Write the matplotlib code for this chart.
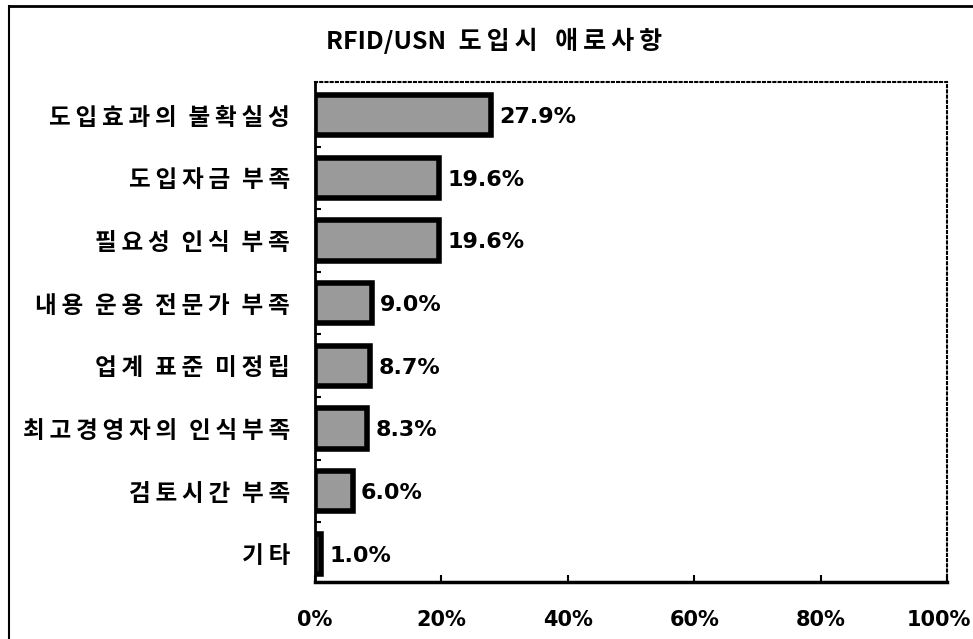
import numpy as np
import matplotlib.pyplot as plt
from matplotlib.lines import Line2D
from matplotlib.transforms import ScaledTranslation

plt.rcParams['font.family'] = ['Noto Sans CJK KR', 'DejaVu Sans']

categories = ["도입효과의 불확실성", "도입자금 부족", "필요성 인식 부족",
              "내용 운용 전문가 부족", "업계 표준 미정립", "최고경영자의 인식부족",
              "검토시간 부족", "기타"]
values = [27.9, 19.6, 19.6, 9.0, 8.7, 8.3, 6.0, 1.0]
xticks = [0, 20, 40, 60, 80, 100]
title_latin = "RFID/USN"
title_kor = "도입시 애로사항"

SEP = '\u2009'          # small gap between hangul glyphs
WORD = '\u2002'


def spaced(s, sep=SEP, word=WORD):
    # the scanned font is set with a little extra letter spacing
    return word.join(sep.join(w) for w in s.split(' '))


fig = plt.figure(figsize=(9.73, 6.39), dpi=100)
ax = fig.add_axes([0.3237, 0.0892, 0.6496, 0.7825])

ypos = np.arange(len(categories))
ax.barh(ypos, values, height=0.64, color='#9a9a9a', edgecolor='black',
        linewidth=4)
for y, v in zip(ypos, values):
    ax.text(v + 1.3, y + 0.03, f"{v:.1f}%", va='center', ha='left',
            fontsize=16, fontweight='bold', family='DejaVu Sans')

ax.set_xlim(0, 100)
ax.set_ylim(7.45, -0.53)
ax.set_yticks(ypos)
ax.set_yticklabels([spaced(c) for c in categories], fontsize=17,
                   fontweight='bold')
ax.set_xticks(xticks)
ax.set_xticklabels([f"{t}%" for t in xticks], fontsize=15,
                   fontweight='bold', family='DejaVu Sans')
ax.tick_params(axis='y', length=0, pad=18)
ax.tick_params(axis='x', direction='in', length=5, width=1.5, pad=20)
ax.set_yticks(ypos[:-1] + 0.5, minor=True)
ax.tick_params(axis='y', which='minor', direction='in', length=4, width=1.5)

# last tick label hugs the right edge as in the scan
last = ax.get_xticklabels()[-1]
last.set_horizontalalignment('right')
last.set_transform(last.get_transform() +
                   ScaledTranslation(0.245, 0, fig.dpi_scale_trans))

ax.spines['left'].set_linewidth(2)
ax.spines['bottom'].set_linewidth(2.5)
for s in ('top', 'right'):
    ax.spines[s].set_linestyle((0, (1, 1.5)))
    ax.spines[s].set_linewidth(1.5)

fig.text(0.508, 0.936,
         title_latin + '\u2002' + spaced(title_kor, '\u2009', '\u2002\u2009'),
         ha='center', va='center', fontsize=18, fontweight='bold')

# outer frame (left and top edges)
fig.add_artist(Line2D([9 / 973, 9 / 973], [0, 1 - 6 / 639],
                      transform=fig.transFigure, color='black', lw=1.5))
fig.add_artist(Line2D([9 / 973, 1], [1 - 6 / 639, 1 - 6 / 639],
                      transform=fig.transFigure, color='black', lw=2))

fig.savefig("out.png", dpi=100)
